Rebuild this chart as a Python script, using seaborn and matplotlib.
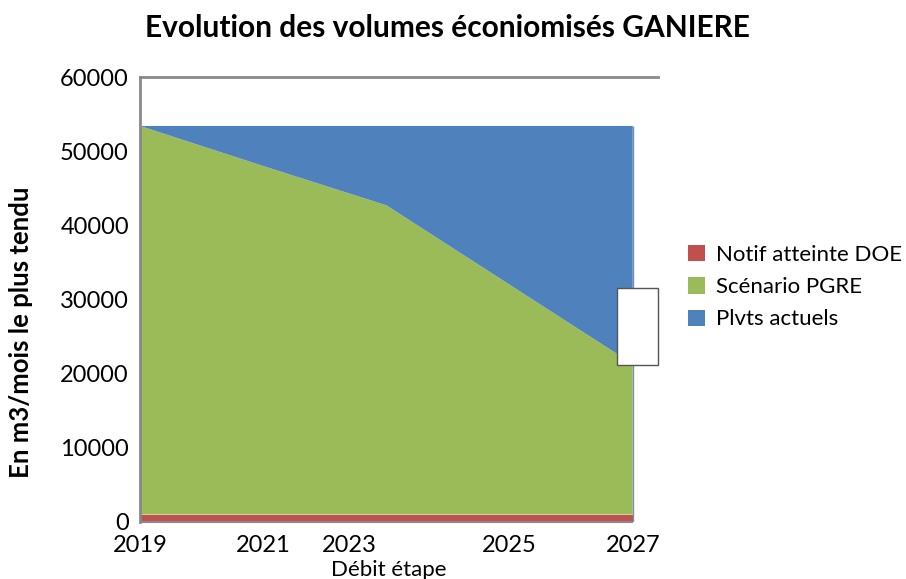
import numpy as np
import seaborn as sns
import matplotlib.pyplot as plt
from matplotlib.patches import Rectangle

# Donnees
annees = [2019, 2021, 2023, 2025, 2027]
total_plvts = [53400, 53400, 53400, 53400, 53400]
niveau_pgre = [53400, 48000, 42700, 32000, 21300]
notif_doe = [1000, 1000, 1000, 1000, 1000]

tick_pos = [2019, 2021, 2022.4, 2025, 2027]
tick_labels = ["2019", "2021", "2023", "2025", "2027"]
y_ticks = [0, 10000, 20000, 30000, 40000, 50000, 60000]

series = ["Notif atteinte DOE", "Scénario PGRE", "Plvts actuels"]
couleurs = ["#C0504D", "#9BBB59", "#4F81BD"]

sns.set_theme(style="white")
plt.rcParams["font.family"] = ["Lato", "DejaVu Sans"]
plt.rcParams["text.color"] = "black"

doe = np.array(notif_doe)
pgre = np.array(niveau_pgre) - doe
plvts = np.array(total_plvts) - np.array(niveau_pgre)

fig = plt.figure(figsize=(9.06, 5.79), dpi=100)
ax = fig.add_axes([140 / 906, 1 - 522 / 579, 518 / 906, 445 / 579])

ax.stackplot(annees, doe, pgre, plvts, labels=series, colors=couleurs,
             edgecolor="none")
# contours fins de la zone comme sur l'original
ax.vlines(annees[-1], 0, total_plvts[-1], color="#6F93B5", linewidth=1)
ax.hlines(0, annees[0], annees[-1], color="#898989", linewidth=1.5,
          clip_on=False)
ax.set_xlim(2019, 2027.41)
ax.set_ylim(0, 60000)
ax.set_xticks(tick_pos)
ax.set_xticklabels(tick_labels)
ax.set_yticks(y_ticks)
ax.tick_params(axis="both", labelsize=17, length=0, colors="black")
ax.tick_params(axis="y", pad=8)
ax.tick_params(axis="x", pad=9)

for side in ["top", "left"]:
    ax.spines[side].set_color("#898989")
    ax.spines[side].set_linewidth(2)
ax.spines["bottom"].set_visible(False)
ax.spines["right"].set_visible(False)

ax.set_xlabel("Débit étape", fontsize=16, labelpad=3, color="black")
ax.xaxis.label.set_x(0.48)
fig.text(0.023, 0.427, "En m3/mois le plus tendu", rotation=90,
         fontsize=18.5, fontweight="bold", ha="center", va="center")
fig.text(0.494, 0.952, "Evolution des volumes éconiomisés GANIERE",
         fontsize=21.5, fontweight="bold", ha="center", va="center")

ax.legend(loc="center left", bbox_to_anchor=(0.7594, 0.504),
          bbox_transform=fig.transFigure, frameon=False, fontsize=16,
          handlelength=0.75, handleheight=0.75, handletextpad=0.5,
          labelspacing=0.55, borderpad=0, borderaxespad=0)

# petite boite vide presente sur l'original
fig.add_artist(Rectangle((617 / 906, 1 - 365 / 579), 41 / 906, 77 / 579,
                         transform=fig.transFigure, facecolor="white",
                         edgecolor="#555555", linewidth=1))

fig.savefig("out.png", dpi=100)
plt.close(fig)
